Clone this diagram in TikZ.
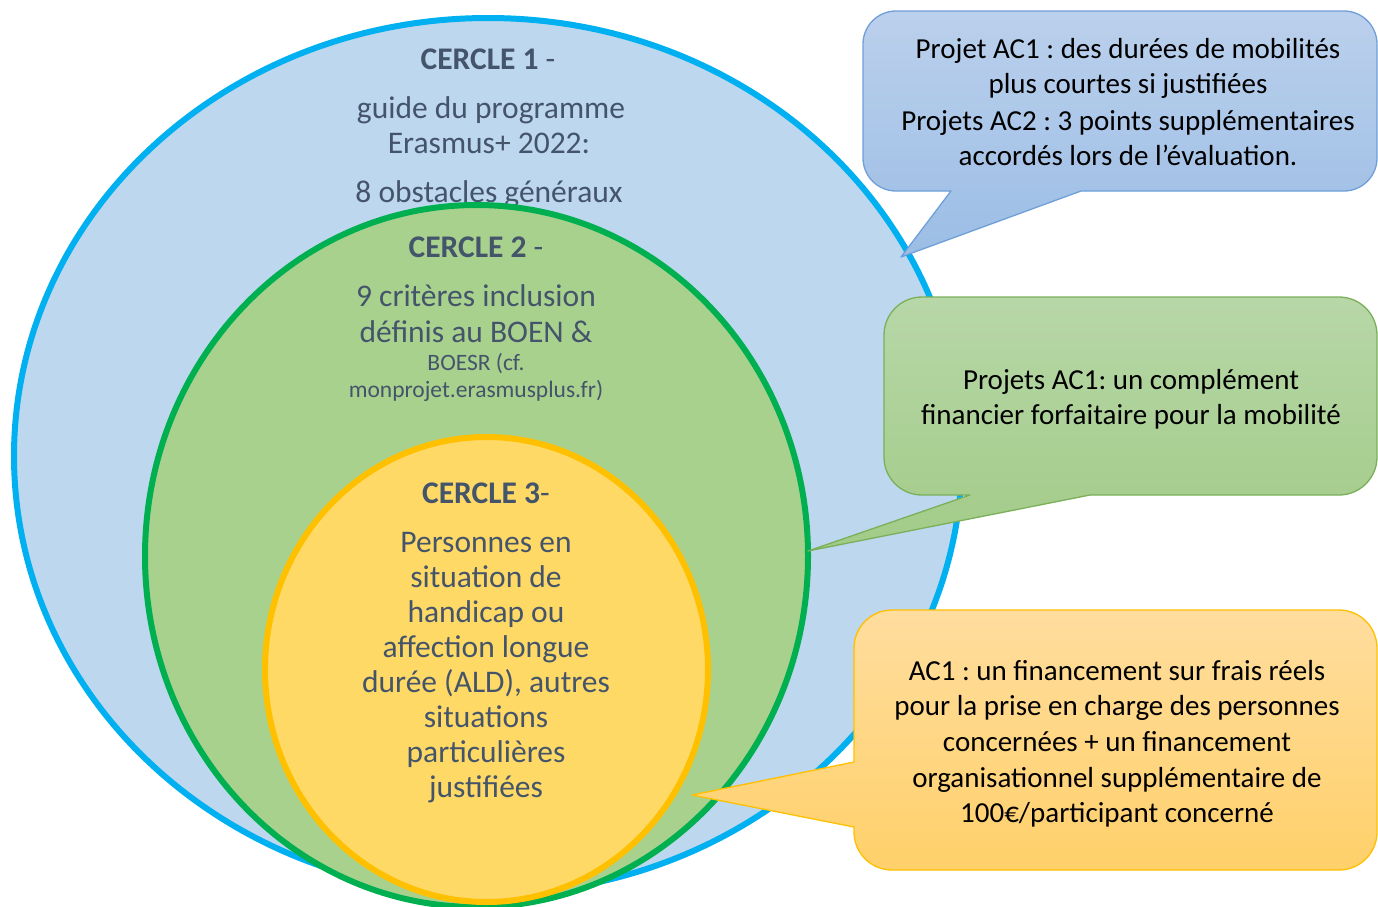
\documentclass[tikz,border=0pt]{standalone}
\usepackage{fontspec}
\setmainfont{Carlito}
\usetikzlibrary{shapes.geometric}
\definecolor{circtext}{HTML}{44546A}
\definecolor{bluefill}{HTML}{BDD7EE}
\definecolor{bluestroke}{HTML}{00B0F0}
\definecolor{greenfill}{HTML}{A9D18E}
\definecolor{greenstroke}{HTML}{00B050}
\definecolor{yellowfill}{HTML}{FFD966}
\definecolor{yellowstroke}{HTML}{FFC000}
\definecolor{bcTop}{HTML}{BBD0EC}
\definecolor{bcBot}{HTML}{9BBDE5}
\definecolor{bcLine}{HTML}{6F9FD8}
\definecolor{gcTop}{HTML}{B7D7A8}
\definecolor{gcBot}{HTML}{A2CB87}
\definecolor{gcLine}{HTML}{7AB05A}
\definecolor{ocTop}{HTML}{FFDD9E}
\definecolor{ocBot}{HTML}{FFD06A}
\definecolor{ocLine}{HTML}{FFC000}
\tikzset{
  circ/.style={ellipse, inner sep=0pt, line width=6pt},
  cline/.style={anchor=base, inner sep=0pt, text=circtext, font=\fontsize{31.5}{36}\selectfont},
  csmall/.style={anchor=base, inner sep=0pt, text=circtext, font=\fontsize{23.5}{26}\selectfont},
  kline/.style={anchor=base, inner sep=0pt, text=black, font=\fontsize{29}{35}\selectfont},
  bluecall/.style={top color=bcTop, bottom color=bcBot, draw=bcLine, line width=1.3pt, line join=round},
  greencall/.style={top color=gcTop, bottom color=gcBot, draw=gcLine, line width=1.3pt, line join=round},
  orangecall/.style={top color=ocTop, bottom color=ocBot, draw=ocLine, line width=1.3pt, line join=round}
}
\frenchspacing
\begin{document}
\begin{tikzpicture}[x=1pt,y=-1pt]
\useasboundingbox (0,0) rectangle (1378,906);
% circle 1
\node[circ, draw=bluestroke, fill=bluefill, minimum width=948pt, minimum height=876pt] (c1) at (488,456) {};
\node[cline] (c1t) at (488,69) {{\bfseries CERCLE 1} -};
\node[cline] (c1a) at (491,118) {guide du programme};
\node[cline] (c1b) at (489,153) {Erasmus+ 2022:};
\node[cline] (c1c) at (489,202) {8 obstacles généraux};
% circle 2
\node[circ, draw=greenstroke, fill=greenfill, minimum width=663pt, minimum height=702pt] (c2) at (476.5,556) {};
\node[cline] (c2t) at (476,257) {{\bfseries CERCLE 2} -};
\node[cline] (c2a) at (476,306) {9 critères inclusion};
\node[cline] (c2b) at (476,342) {définis au BOEN \&};
\node[csmall] (c2c) at (476,370) {BOESR (cf.};
\node[csmall] (c2d) at (476,397) {monprojet.erasmusplus.fr)};
% circle 3
\node[circ, draw=yellowstroke, fill=yellowfill, minimum width=443pt, minimum height=465pt] (c3) at (486.5,669.5) {};
\node[cline] (c3t) at (486,503) {{\bfseries CERCLE 3}-};
\node[cline] (c3a) at (486,552) {Personnes en};
\node[cline] (c3b) at (486,587) {situation de};
\node[cline] (c3c) at (486,622) {handicap ou};
\node[cline] (c3d) at (486,657) {affection longue};
\node[cline] (c3e) at (486,692) {durée (ALD), autres};
\node[cline] (c3f) at (486,727) {situations};
\node[cline] (c3g) at (486,762) {particulières};
\node[cline] (c3h) at (486,797) {justifiées};
% callout 1 (blue)
\path[bluecall] (896,11) -- (1344,11) arc[start angle=-90,end angle=0,radius=33]
  -- (1377,158) arc[start angle=0,end angle=90,radius=33]
  -- (1081,191) -- (901,257) -- (951,191) -- (896,191)
  arc[start angle=90,end angle=180,radius=33]
  -- (863,44) arc[start angle=180,end angle=270,radius=33] -- cycle;
\node[kline] (k1a) at (1128,58) {Projet AC1 : des durées de mobilités};
\node[kline] (k1b) at (1128,93) {plus courtes si justifiées};
\node[kline] (k1c) at (1128,130) {Projets AC2 : 3 points supplémentaires};
\node[kline] (k1d) at (1128,165) {accordés lors de l’évaluation.};
% callout 2 (green)
\path[greencall] (922,297) -- (1339,297) arc[start angle=-90,end angle=0,radius=38]
  -- (1377,457) arc[start angle=0,end angle=90,radius=38]
  -- (1090,495) -- (808,551) -- (970,495) -- (922,495)
  arc[start angle=90,end angle=180,radius=38]
  -- (884,335) arc[start angle=180,end angle=270,radius=38] -- cycle;
\node[kline] (k2a) at (1131,389) {Projets AC1: un complément};
\node[kline] (k2b) at (1131,424) {financier forfaitaire pour la mobilité};
% callout 3 (orange)
\path[orangecall] (892,610) -- (1339,610) arc[start angle=-90,end angle=0,radius=38]
  -- (1377,832) arc[start angle=0,end angle=90,radius=38]
  -- (892,870) arc[start angle=90,end angle=180,radius=38]
  -- (854,827) -- (692,795) -- (854,762)
  -- (854,648) arc[start angle=180,end angle=270,radius=38] -- cycle;
\node[kline] (k3a) at (1117,680) {AC1 : un financement sur frais réels};
\node[kline] (k3b) at (1117,715) {pour la prise en charge des personnes};
\node[kline] (k3c) at (1117,751) {concernées + un financement};
\node[kline] (k3d) at (1117,787) {organisationnel supplémentaire de};
\node[kline] (k3e) at (1117,822) {100€/participant concerné};
\end{tikzpicture}
\end{document}
